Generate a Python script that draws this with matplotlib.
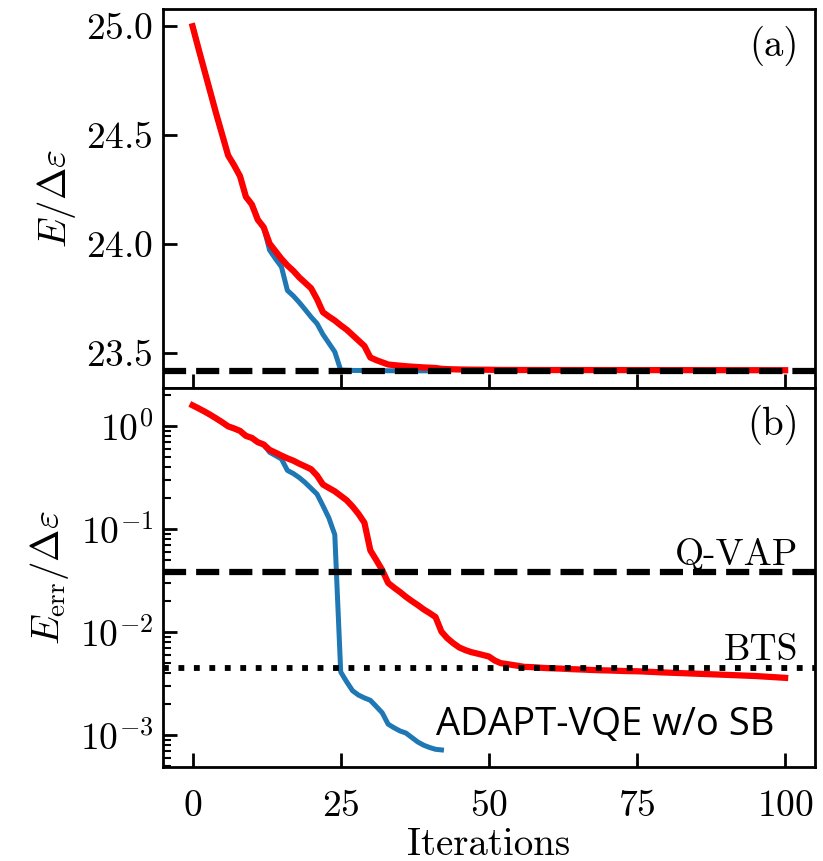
import numpy as np
import matplotlib
matplotlib.use("Agg")
import matplotlib.pyplot as plt

plt.rcParams['font.family'] = 'serif'
plt.rcParams['font.serif'] = ['cmr10']
plt.rcParams['mathtext.fontset'] = 'cm'
plt.rcParams['axes.formatter.use_mathtext'] = True
plt.rcParams['axes.unicode_minus'] = True

# ---------------- data ----------------
E0 = 23.417          # exact ground-state energy (E/Δε)
E_QVAP_err = 0.038   # Q-VAP error level
E_BTS_err = 0.00445  # BTS error level

# ADAPT-VQE w/o SB (blue): error E_err/Δε at each iteration 0..42
err_blue = [1.583, 1.48, 1.38, 1.28, 1.18, 1.085, 0.99, 0.945, 0.895, 0.80,
            0.765, 0.695, 0.66, 0.555, 0.515, 0.478, 0.37, 0.345, 0.315, 0.282,
            0.248, 0.218, 0.168, 0.128, 0.088, 0.0041, 0.0033, 0.0027, 0.00245, 0.0023,
            0.00218, 0.0019, 0.00165, 0.00128, 0.00118, 0.0011, 0.00105, 0.00095, 0.00086, 0.0008,
            0.00076, 0.00073, 0.00072]

# second method (red): error at each iteration 0..100
err_red = [1.583, 1.48, 1.38, 1.28, 1.18, 1.085, 0.99, 0.945, 0.895, 0.80,
           0.765, 0.695, 0.66, 0.585, 0.55, 0.515, 0.485, 0.46, 0.43, 0.405,
           0.38, 0.33, 0.27, 0.25, 0.232, 0.21, 0.19, 0.165, 0.14, 0.115,
           0.062, 0.05, 0.04, 0.030, 0.027, 0.0245, 0.022, 0.020, 0.0183, 0.0166,
           0.0153, 0.014, 0.0101, 0.0087, 0.0078, 0.0071, 0.0067, 0.0064, 0.0062, 0.0060,
           0.0058, 0.0053, 0.0050, 0.0049, 0.0048, 0.0047, 0.0046, 0.00458, 0.00455, 0.0045,
           0.00447, 0.00445, 0.00443, 0.0044, 0.00437, 0.00435, 0.00433, 0.0043, 0.00428, 0.00426,
           0.00425, 0.00423, 0.00421, 0.00419, 0.00418, 0.00417, 0.00415, 0.00412, 0.0041, 0.00407,
           0.00405, 0.00403, 0.00401, 0.00399, 0.00397, 0.00395, 0.00393, 0.00391, 0.00389, 0.00387,
           0.00385, 0.00383, 0.00381, 0.00379, 0.00377, 0.00375, 0.00372, 0.00369, 0.00366, 0.00363,
           0.0036]

it_blue = np.arange(len(err_blue))
it_red = np.arange(len(err_red))
E_blue = E0 + np.array(err_blue)
E_red = E0 + np.array(err_red)

# ---------------- figure ----------------
fig, (ax1, ax2) = plt.subplots(2, 1, figsize=(8.23, 8.61), dpi=100, sharex=True)
fig.subplots_adjust(left=0.198, right=0.990, top=0.9895, bottom=0.109, hspace=0)

blue = '#1f77b4'
red = '#ff0000'
lw_b, lw_r = 3.6, 4.5

ax1.plot(it_blue, E_blue, color=blue, lw=lw_b, zorder=2)
ax1.plot(it_red, E_red, color=red, lw=lw_r, zorder=2)
ax1.axhline(E0, color='black', ls='--', lw=4.5, zorder=3)

ax2.plot(it_blue, err_blue, color=blue, lw=lw_b, zorder=2)
ax2.plot(it_red, err_red, color=red, lw=lw_r, zorder=2)
ax2.axhline(E_QVAP_err, color='black', ls='--', lw=4.5, zorder=3)
ax2.axhline(E_BTS_err, color='black', ls=':', lw=4.2, zorder=3)
ax2.set_yscale('log')

ax1.set_xlim(-5, 105)
ax1.set_xticks([0, 25, 50, 75, 100])
ax1.set_yticks([23.5, 24.0, 24.5, 25.0])

for ax in (ax1, ax2):
    for s in ax.spines.values():
        s.set_linewidth(2.0)
    ax.tick_params(which='major', direction='in', length=10, width=2.0,
                   labelsize=27, top=False, right=False)
    ax.tick_params(which='minor', direction='in', length=6, width=1.5,
                   top=False, right=False)
    ax.tick_params(axis='y', which='major', pad=7)
    ax.tick_params(axis='x', which='major', pad=16)

ax1.tick_params(axis='x', labelbottom=False)

ax1.set_ylabel(r'$E/\Delta\varepsilon$', fontsize=28, labelpad=6)
ax2.set_ylabel(r'$E_{\rm err}/\Delta\varepsilon$', fontsize=28, labelpad=6)
ax2.set_xlabel('Iterations', fontsize=28, labelpad=3)

ax1.text(0.975, 0.955, '(a)', transform=ax1.transAxes, ha='right', va='top', fontsize=28)
ax2.text(0.975, 0.955, '(b)', transform=ax2.transAxes, ha='right', va='top', fontsize=28)

ax2.annotate('Q-VAP', xy=(0.975, E_QVAP_err), xycoords=('axes fraction', 'data'),
             xytext=(0, 5), textcoords='offset points', ha='right', va='baseline', fontsize=27)
ax2.annotate('BTS', xy=(0.975, E_BTS_err), xycoords=('axes fraction', 'data'),
             xytext=(0, 6), textcoords='offset points', ha='right', va='baseline', fontsize=27)
ax2.text(41, 1.0e-3, 'ADAPT-VQE w/o SB', ha='left', va='baseline',
         fontsize=27.5, family=['Open Sans', 'DejaVu Sans'])

fig.savefig('out.png', dpi=100)
